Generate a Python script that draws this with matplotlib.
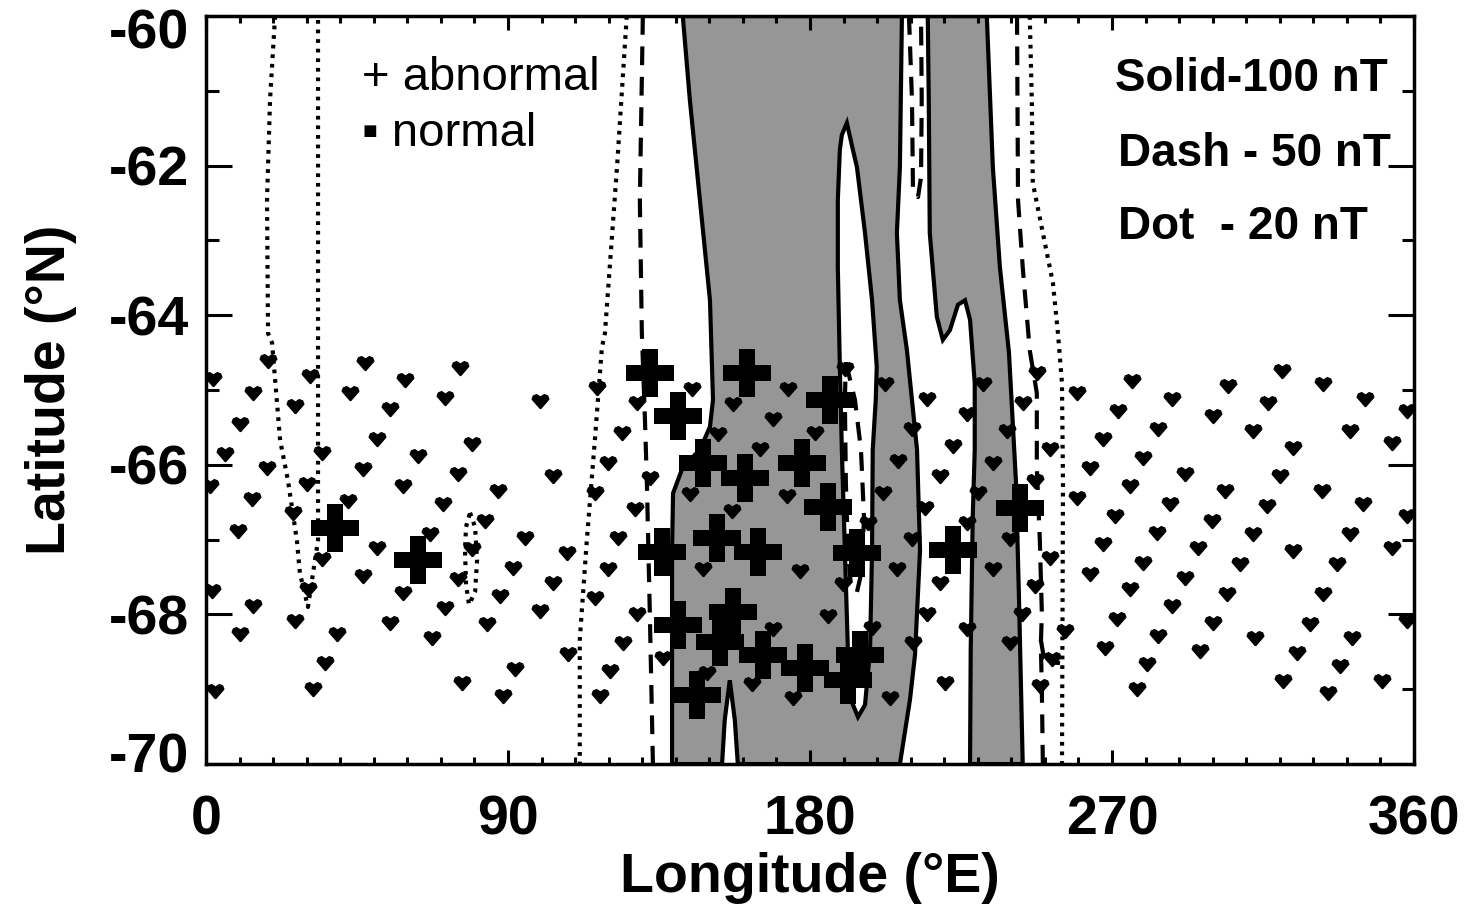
import numpy as np
import matplotlib.pyplot as plt
from matplotlib.transforms import ScaledTranslation

plt.rcParams['font.family'] = ['Liberation Sans', 'DejaVu Sans']
plt.rcParams['axes.unicode_minus'] = False

# abnormal events (+)
abn_lon = [132.3, 140.6, 161.2, 185.9, 148.1, 177.6, 160.6, 185.3, 152.3, 135.9, 164.5, 194.0,
           222.6, 242.6, 157.0, 140.6, 153.2, 166.0, 178.5, 194.9, 191.3, 146.3, 38.4, 63.2]
abn_lat = [-64.77, -65.35, -64.77, -65.13, -65.98, -65.98, -66.18, -66.56, -66.98, -67.17, -67.17, -67.18,
           -67.14, -66.58, -67.97, -68.14, -68.37, -68.54, -68.72, -68.54, -68.88, -69.08, -66.84, -67.27]

# normal events
nrm_lon = [2.1, 18.5, 47.4, 75.7, 31.0, 59.3, 14.0, 42.9, 71.2, 99.5, 116.5, 26.5, 54.8, 10.1,
           51.0, 79.3, 34.6, 63.2, 5.7, 18.2, 46.8, 75.1, 103.4, 119.8, 1.2, 30.1, 58.7, 87.0,
           115.9, 13.7, 42.3, 70.6, 25.9, 83.1, 9.5, 66.7, 95.1, 122.8, 51.0, 79.3, 107.6, 34.6,
           91.5, 119.8, 46.8, 75.1, 103.4, 30.4, 1.8, 58.7, 87.6, 115.9, 14.0, 71.2, 99.5, 26.5,
           54.8, 83.7, 10.1, 39.0, 67.3, 107.9, 120.4, 35.5, 92.1, 76.3, 2.7, 31.9, 88.5, 117.4,
           144.8, 173.4, 202.3, 128.4, 157.0, 214.8, 231.5, 169.0, 226.8, 124.0, 152.6, 181.5,
           210.4, 165.1, 222.6, 206.2, 234.5, 132.3, 218.7, 144.2, 173.1, 201.7, 230.0, 127.8,
           156.7, 214.2, 197.3, 226.8, 210.4, 148.1, 177.0, 205.9, 234.5, 189.8, 218.7, 128.4,
           185.3, 214.8, 169.0, 198.5, 226.8, 124.3, 136.2, 210.7, 149.3, 162.7, 220.2, 174.9,
           203.8, 190.4,
           247.6, 259.5, 275.9, 304.5, 320.6, 332.8, 345.4, 357.9, 243.4, 287.8, 316.4, 271.8,
           300.1, 283.7, 312.0, 340.9, 267.3, 251.5, 323.9, 353.4, 279.2, 263.4, 291.7, 320.0,
           247.0, 275.3, 303.6, 332.5, 259.5, 287.2, 316.2, 344.8, 270.9, 299.8, 357.9, 283.4,
           312.0, 340.9, 239.6, 267.3, 295.6, 323.9, 353.4, 251.5, 279.2, 308.1, 337.0, 263.4,
           291.7, 247.0, 275.3, 304.2, 332.8, 287.8, 243.1, 271.5, 300.1, 329.0, 357.9, 256.0,
           283.7, 312.6, 341.5, 239.6, 267.9, 296.2, 325.1, 252.1, 280.4, 337.9, 248.5, 320.9,
           350.4, 277.4, 334.3, 238.7]
nrm_lat = [-64.84, -64.60, -64.63, -64.69, -64.80, -64.85, -65.03, -65.03, -65.09, -65.13, -64.96, -65.20,
           -65.24, -65.44, -65.64, -65.71, -65.83, -65.87, -65.84, -66.03, -66.04, -66.11, -66.14, -65.96,
           -66.27, -66.24, -66.27, -66.34, -66.36, -66.44, -66.47, -66.51, -66.63, -66.74, -66.87, -66.91,
           -66.97, -66.97, -67.10, -67.11, -67.17, -67.25, -67.37, -67.38, -67.47, -67.51, -67.57, -67.65,
           -67.67, -67.70, -67.74, -67.77, -67.87, -67.90, -67.94, -68.07, -68.10, -68.11, -68.25, -68.25,
           -68.30, -68.52, -68.74, -68.64, -68.72, -68.90, -69.01, -68.98, -69.08, -69.08,
           -64.97, -64.97, -64.91, -65.16, -65.17, -65.11, -64.91, -65.37, -65.31, -65.56, -65.57, -65.56,
           -65.51, -65.78, -65.74, -65.94, -65.96, -66.16, -66.14, -66.38, -66.40, -66.36, -66.36, -66.58,
           -66.60, -66.56, -66.76, -66.76, -66.98, -67.38, -67.41, -67.38, -67.38, -67.58, -67.57, -67.98,
           -68.01, -67.98, -68.18, -68.17, -68.18, -68.37, -68.57, -68.37, -68.77, -68.92, -68.90, -69.10,
           -69.10, -64.71,
           -64.76, -65.03, -64.87, -64.93, -64.73, -64.91, -65.11, -65.27, -65.16, -65.11, -65.16, -65.27,
           -65.33, -65.51, -65.53, -65.53, -65.64, -65.78, -65.76, -65.70, -65.90, -66.03, -66.11, -66.14,
           -66.20, -66.27, -66.34, -66.34, -66.43, -66.51, -66.54, -66.51, -66.67, -66.74, -66.67, -66.90,
           -66.91, -66.91, -66.98, -67.05, -67.10, -67.14, -67.10, -67.23, -67.30, -67.31, -67.31, -67.45,
           -67.50, -67.61, -67.65, -67.71, -67.71, -67.87, -67.98, -68.05, -68.10, -68.11, -68.07, -68.21,
           -68.28, -68.30, -68.30, -68.37, -68.44, -68.48, -68.50, -68.58, -68.65, -68.68, -68.94, -68.88,
           -68.88, -68.98, -69.04, -65.53]

# 100 nT contour: two shaded bands, a closed low inside band 1
band1_lon = [142.1, 144.2, 147.2, 150.2, 151.1, 150.2, 147.2, 142.1, 139.2, 138.9, 138.9,
             153.8, 154.6, 156.1, 157.6, 158.5,
             206.8, 209.8, 211.3, 212.8, 211.9, 208.9, 206.8, 205.9, 206.8, 207.4]
band1_lat = [-60.0, -61.12, -62.46, -63.80, -65.13, -65.49, -65.80, -66.03, -66.38, -67.14, -70.0,
             -70.0, -69.41, -68.88, -69.41, -70.0,
             -70.0, -69.14, -68.54, -67.14, -65.80, -64.47, -63.80, -62.90, -62.02, -60.0]
hole_lon = [191.0, 192.8, 194.0, 196.4, 198.5, 199.9, 199.6, 198.7, 198.5, 197.9, 196.4, 194.3,
            192.2, 191.3, 190.4, 189.5, 188.9, 188.3, 188.3, 188.9, 189.5]
hole_lat = [-61.43, -61.79, -62.02, -62.90, -63.80, -64.69, -65.13, -65.80, -67.14, -68.48, -69.21, -69.37,
            -69.14, -68.48, -67.14, -65.80, -64.69, -63.36, -62.46, -61.79, -61.59]
band2_lon = [215.1, 215.4, 215.7, 217.8, 219.6, 221.7, 224.1, 226.2, 227.7, 229.1, 229.1, 228.5, 227.9, 227.7,
             243.4, 242.3, 241.4, 239.3, 236.6, 234.5, 232.7]
band2_lat = [-60.0, -61.12, -62.90, -64.02, -64.33, -64.20, -63.86, -63.80, -64.06, -64.91, -65.80, -66.70, -68.48, -70.0,
             -70.0, -67.81, -66.24, -64.50, -63.36, -62.02, -60.0]

# 50 nT contour pieces
d1_lon = [130.2, 129.3, 129.9, 130.8, 131.4, 132.3, 133.2]
d1_lat = [-60.0, -62.46, -64.24, -65.36, -66.24, -68.03, -70.0]
d2_lon = [209.5, 210.4, 210.7, 212.2, 213.1, 213.3, 213.1]
d2_lat = [-60.0, -61.12, -62.33, -62.42, -62.15, -61.12, -60.0]
d3_lon = [190.7, 193.4, 195.2, 196.1, 195.5, 194.0, 192.2, 191.3, 190.7, 190.4, 190.7]
d3_lat = [-64.63, -65.13, -65.80, -66.70, -67.41, -67.70, -67.61, -67.14, -66.24, -65.13, -64.63]
d4_lon = [241.7, 242.0, 243.4, 245.5, 247.6, 247.6, 248.5, 249.1, 248.8, 249.1, 249.4]
d4_lat = [-60.0, -62.46, -63.36, -64.47, -65.04, -66.03, -67.01, -67.98, -68.41, -69.0, -70.0]
d5_lon = [248.8, 249.7, 251.5, 254.5]
d5_lat = [-68.34, -68.58, -68.64, -68.65]

# 20 nT contour pieces
t1_lon = [20.6, 19.1, 18.2, 18.5, 19.7, 22.1, 24.4, 27.1, 28.0, 30.4, 31.9, 33.4, 33.4, 33.4, 33.4]
t1_lat = [-60.0, -61.12, -62.46, -64.24, -64.37, -65.67, -66.20, -67.01, -67.45, -67.90, -67.45, -67.01,
          -65.67, -64.33, -60.0]
t2_lon = [78.7, 80.2, 80.8, 80.2, 78.4, 77.5, 77.2, 77.5, 78.7]
t2_lat = [-66.64, -66.83, -67.27, -67.70, -67.87, -67.60, -67.14, -66.83, -66.64]
t3_lon = [125.4, 122.5, 118.9, 118.0, 115.9, 113.5, 111.4, 111.4]
t3_lat = [-60.0, -62.02, -64.24, -64.43, -65.67, -67.01, -68.34, -70.0]
t4_lon = [245.5, 246.1, 246.4, 249.4, 252.4, 253.9, 255.1, 255.4, 255.1]
t4_lat = [-60.0, -61.12, -62.23, -62.90, -63.57, -64.24, -64.91, -66.24, -70.0]

grey = '#969696'
lw = 3.0
dash = (0, (4.5, 2.8))
dot = (0, (0.9, 1.4))

fig = plt.figure(figsize=(14.7, 9.1), dpi=100)
ax = fig.add_axes([0.1401, 0.1604, 0.8218, 0.8220])

ax.fill(band1_lon, band1_lat, facecolor=grey, edgecolor='black', lw=lw, zorder=1)
ax.fill(band2_lon, band2_lat, facecolor=grey, edgecolor='black', lw=lw, zorder=1)
ax.fill(hole_lon, hole_lat, facecolor='white', edgecolor='black', lw=lw, zorder=1.5)

for lo, la in [(d1_lon, d1_lat), (d2_lon, d2_lat), (d3_lon, d3_lat), (d4_lon, d4_lat), (d5_lon, d5_lat)]:
    ax.plot(lo, la, color='black', lw=lw, linestyle=dash, zorder=2)
for lo, la in [(t1_lon, t1_lat), (t2_lon, t2_lat), (t3_lon, t3_lat), (t4_lon, t4_lat)]:
    ax.plot(lo, la, color='black', lw=lw, linestyle=dot, zorder=2)

heart = [(0, -1), (-1, 0.15), (-0.85, 0.55), (-0.45, 0.7), (0, 0.4), (0.45, 0.7), (0.85, 0.55), (1, 0.15), (0, -1)]
ax.plot(nrm_lon, nrm_lat, linestyle='none', marker=heart, ms=12, color='black', zorder=3)
ax.plot(abn_lon, abn_lat, linestyle='none', marker='P', ms=35, mew=0, color='black', zorder=4)

ax.text(46.5, -60.99, '+ abnormal', fontsize=34, zorder=5)
ax.text(46.5, -61.74, '▪ normal', fontsize=34, zorder=5)
ax.text(270.9, -61.0, 'Solid-100 nT', fontsize=33, fontweight='bold', zorder=5)
ax.text(271.8, -62.0, 'Dash - 50 nT', fontsize=33, fontweight='bold', zorder=5)
ax.text(271.8, -62.98, 'Dot  - 20 nT', fontsize=33, fontweight='bold', zorder=5)

ax.set_xlim(0, 360)
ax.set_ylim(-70, -60)
ax.set_xticks([0, 90, 180, 270, 360])
ax.set_xticks(np.arange(0, 361, 10), minor=True)
ax.set_yticks([-70, -68, -66, -64, -62, -60])
ax.set_yticks(np.arange(-70, -59, 1), minor=True)
ax.tick_params(axis='x', which='major', direction='in', length=10, width=2.2, top=True, pad=22, labelsize=40)
ax.tick_params(axis='x', which='minor', direction='in', length=5, width=2.2, top=True)
ax.tick_params(axis='y', which='major', direction='in', length=19, width=2.2, right=True, pad=12, labelsize=40)
ax.tick_params(axis='y', which='minor', direction='in', length=9, width=2.2, right=True)
for lab in ax.get_xticklabels() + ax.get_yticklabels():
    lab.set_fontweight('bold')
for s in ax.spines.values():
    s.set_linewidth(2.5)

# end labels sit inside the axis range, as in the original
ylabs = ax.get_yticklabels()
ylabs[0].set_transform(ylabs[0].get_transform() + ScaledTranslation(0, 12 / 100, fig.dpi_scale_trans))
ylabs[-1].set_transform(ylabs[-1].get_transform() + ScaledTranslation(0, -12 / 100, fig.dpi_scale_trans))

ax.set_xlabel('Longitude (°E)', fontsize=40, fontweight='bold', labelpad=4)
ax.set_ylabel('Latitude (°N)', fontsize=40, fontweight='bold', labelpad=23)

fig.savefig('out.png', dpi=100)
